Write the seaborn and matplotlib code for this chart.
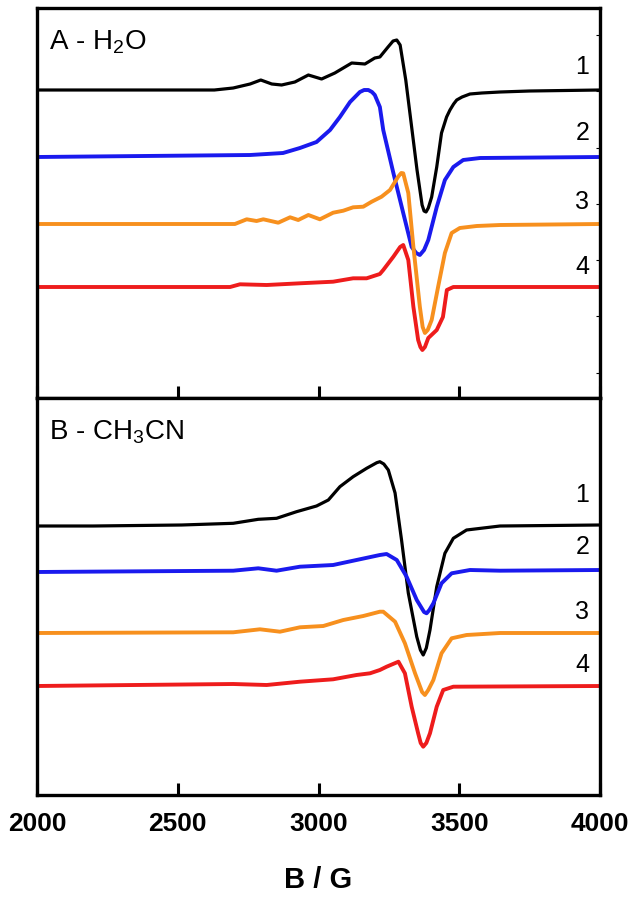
import pandas as pd
import matplotlib
matplotlib.use("Agg")
import matplotlib.pyplot as plt
import seaborn as sns

# ---- data: EPR spectra (field in G, intensity in a.u.) ----
# Panel A - H2O
a1_field = [2000, 2630, 2697, 2757, 2795, 2834, 2869, 2916, 2964, 3011, 3058, 3118, 3165, 3200, 3218, 3247,
            3265, 3278, 3290, 3310, 3330, 3350, 3368, 3375, 3382, 3390, 3402, 3420, 3437, 3455, 3467, 3480,
            3491, 3510, 3538, 3580, 3645, 3750, 4000]
a1_int = [0, 0, 2, 6, 10, 6, 5, 8, 15, 11, 17, 27, 26, 32, 33, 43,
          49, 50, 45, 10, -35, -80, -115, -121, -122, -118, -107, -77, -43, -27, -20, -14,
          -10, -7, -4, -3, -2, -1, 0]

a2_field = [2000, 2757, 2874, 2934, 2993, 3041, 3076, 3112, 3147, 3162, 3177, 3190, 3200, 3218, 3230, 3266,
            3301, 3331, 3347, 3360, 3375, 3390, 3420, 3449, 3479, 3514, 3574, 4000]
a2_int = [0, 2, 4, 9, 15, 27, 40, 55, 65, 67, 67, 65, 62, 50, 27, -16,
          -56, -90, -96, -98, -93, -83, -50, -23, -10, -3, -1, 0]

a3_field = [2000, 2703, 2745, 2780, 2804, 2857, 2899, 2928, 2964, 3005, 3052, 3088, 3123, 3159, 3189, 3224,
            3254, 3283, 3294, 3301, 3319, 3337, 3360, 3370, 3378, 3388, 3402, 3425, 3449, 3473, 3502, 3562,
            3645, 4000]
a3_int = [0, 0, 4.7, 3, 4.7, 1.3, 6.7, 4, 9, 4.7, 11.3, 13.3, 16.7, 17.3, 22.3, 27.3,
          34, 47.3, 51, 50.7, 31, -22.7, -82.7, -103, -109, -106, -96, -62.7, -29, -9, -4, -2,
          -1, 0]

a4_field = [2000, 2686, 2721, 2816, 2934, 3052, 3123, 3171, 3218, 3230, 3266, 3290, 3301, 3319, 3337, 3354,
            3362, 3369, 3378, 3390, 3420, 3442, 3456, 3479, 4000]
a4_int = [0, 0, 2.7, 2, 3.7, 5.3, 8.7, 8.7, 13, 17, 30.3, 40, 42, 27, -19.7, -53,
          -60, -63, -60, -51, -43, -30, -3, 0, 0]

# Panel B - CH3CN
b1_field = [2000, 2200, 2514, 2697, 2786, 2851, 2922, 2993, 3035, 3076, 3123, 3171, 3207, 3218, 3232, 3248,
            3272, 3295, 3319, 3349, 3362, 3372, 3383, 3396, 3420, 3449, 3479, 3526, 3645, 4000]
b1_int = [0, 0, 1, 2.7, 6.7, 7.7, 14.3, 20, 26, 39.3, 49.3, 57.7, 63.3, 64.3, 62, 56,
          33, -14, -67, -110.7, -124, -129, -122, -104, -60.7, -27.3, -12.3, -4, 0, 1]

b2_field = [2000, 2697, 2786, 2851, 2934, 3052, 3135, 3218, 3242, 3278, 3313, 3349, 3375, 3384, 3394, 3408,
            3437, 3473, 3538, 3645, 4000]
b2_int = [0, 1.3, 3.7, 1.3, 5.3, 7, 12, 17, 18, 12, -4.7, -28, -40, -41.3, -38, -31.3,
          -11.3, -1.3, 2, 1.3, 2]

b3_field = [2000, 2697, 2792, 2863, 2934, 3017, 3088, 3159, 3218, 3230, 3272, 3307, 3343, 3368, 3378, 3390,
            3408, 3437, 3473, 3526, 3645, 4000]
b3_int = [0, 0.7, 3.7, 1.3, 5.7, 7, 13, 17, 21.3, 21.3, 11.3, -10.3, -40.3, -59, -62, -57,
          -47, -20.3, -5.3, -2, 0, 0]

b4_field = [2000, 2697, 2816, 2934, 3052, 3135, 3183, 3218, 3242, 3284, 3307, 3331, 3354, 3363, 3372, 3383,
            3396, 3420, 3443, 3479, 4000]
b4_int = [0, 2, 1, 4.3, 6.7, 11, 12.7, 16, 19.3, 24.3, 12.7, -20.7, -47.3, -57, -60.7, -57,
          -47.3, -20.7, -4, -0.7, 0]

labels = ["1", "2", "3", "4"]
offsets_a = [308, 241, 174, 111]
offsets_b = [269, 223, 162, 109]

colors = {"1": "#000000", "2": "#1a1aee", "3": "#f7901e", "4": "#ee1c1c"}
widths = {"1": 2.3, "2": 2.8, "3": 2.8, "4": 2.8}

# label heights above each baseline (layout)
label_gap_a = [23, 24, 22, 20]
label_gap_b = [31, 25, 21, 21]


def build(fields, ints, offsets):
    rows = []
    for lab, f, y, off in zip(labels, fields, ints, offsets):
        rows.append(pd.DataFrame({"B": f, "I": [v + off for v in y], "trace": lab}))
    return pd.concat(rows, ignore_index=True)


df_a = build([a1_field, a2_field, a3_field, a4_field], [a1_int, a2_int, a3_int, a4_int], offsets_a)
df_b = build([b1_field, b2_field, b3_field, b4_field], [b1_int, b2_int, b3_int, b4_int], offsets_b)

sns.set_theme(style="white")
plt.rcParams["font.family"] = ["Liberation Sans", "DejaVu Sans"]
plt.rcParams["mathtext.fontset"] = "custom"
plt.rcParams["mathtext.rm"] = "Liberation Sans"
plt.rcParams["mathtext.it"] = "Liberation Sans"
for key in ["text.color", "axes.labelcolor", "xtick.color", "ytick.color", "axes.edgecolor"]:
    plt.rcParams[key] = "black"

fig = plt.figure(figsize=(6.37, 9), dpi=100)
W, H = 637, 900
ax_a = fig.add_axes([37 / W, 1 - 398 / H, 563 / W, 390 / H])
ax_b = fig.add_axes([37 / W, 1 - 795 / H, 563 / W, 397 / H])


def draw(ax, df, offsets, gaps, title, ylim):
    for lab in labels:
        sub = df[df["trace"] == lab]
        sns.lineplot(data=sub, x="B", y="I", ax=ax, color=colors[lab], lw=widths[lab],
                     estimator=None, sort=False, legend=False, solid_joinstyle="round")
    for lab, off, g in zip(labels, offsets, gaps):
        ax.text(3962, off + g, lab, ha="right", va="center", fontsize=18, color="black")
    ax.text(0.022, 1 - 41 / (ylim[1] - ylim[0]), title, transform=ax.transAxes,
            fontsize=20, va="baseline", ha="left", color="black")
    ax.set_xlim(2000, 4000)
    ax.set_ylim(*ylim)
    ax.set_xlabel("")
    ax.set_ylabel("")
    ax.set_xticks([2000, 2500, 3000, 3500, 4000])
    ax.tick_params(axis="x", direction="in", length=9, width=2.2, color="black", bottom=True, top=False)
    for s in ax.spines.values():
        s.set_linewidth(2.4)
        s.set_color("black")


draw(ax_a, df_a, offsets_a, label_gap_a, "A - H$_\\mathrm{2}$O", (0, 390))
draw(ax_b, df_b, offsets_b, label_gap_b, "B - CH$_\\mathrm{3}$CN", (0, 397))

# panel A: small ticks on the right spine, no labels
ax_a.yaxis.tick_right()
ax_a.set_yticks([25, 82, 138, 194, 250, 307, 363])
ax_a.tick_params(axis="y", direction="in", length=3, width=0.8, right=True, left=False, labelright=False)
ax_a.set_xticklabels([])
ax_b.set_yticks([])

ax_b.tick_params(axis="x", labelsize=19, pad=12, labelcolor="black")
for t in ax_b.get_xticklabels():
    t.set_fontweight("bold")
ax_b.set_xlabel("B / G", fontsize=21, fontweight="bold", labelpad=22, color="black")

fig.savefig("out.png", dpi=100)
